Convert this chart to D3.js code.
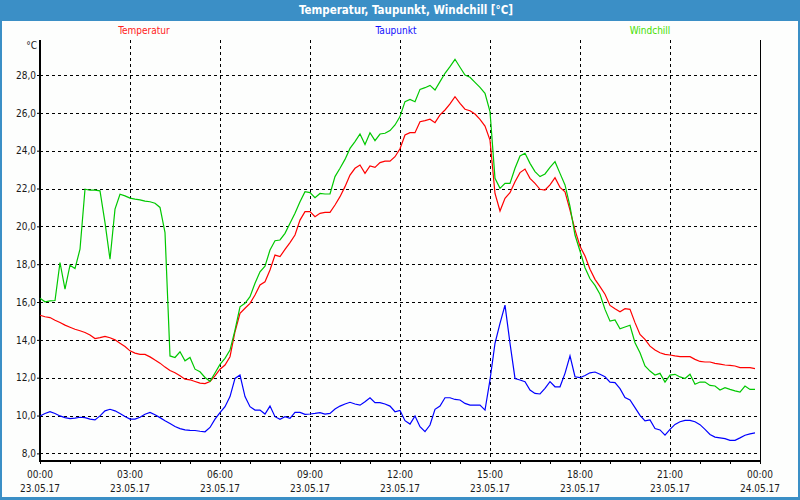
<!DOCTYPE html>
<html>
<head>
<meta charset="utf-8">
<script src="https://cdn.jsdelivr.net/npm/d3@7"></script>
<style>
  html, body { margin: 0; padding: 0; background: #ffffff; }
  svg { display: block; }
  text { font-family: "DejaVu Sans Condensed", "Liberation Sans Narrow", "Liberation Sans", sans-serif; }
</style>
</head>
<body>
<svg id="chart" width="800" height="500"></svg>
<script>
// ---------------- DATA ----------------
const chartTitle = "Temperatur, Taupunkt, Windchill [°C]";
const seriesNames = ["Temperatur", "Taupunkt", "Windchill"];
const seriesColors = ["#ff0000", "#0000ff", "#00c800"];
const legendColors = ["#ff2020", "#1010ff", "#44e000"];

// sample times in hours since 23.05.17 00:00 (10-minute readings)
const hours = d3.range(144).map(k => k / 6);

const temperatur = [
  15.30, 15.22, 15.18, 15.04, 14.92, 14.78, 14.67, 14.56, 14.48, 14.39, 14.26, 14.07,
  14.12, 14.18, 14.11, 14.00, 13.82, 13.65, 13.42, 13.30, 13.23, 13.23, 13.10, 12.93,
  12.77, 12.56, 12.38, 12.26, 12.10, 11.92, 11.89, 11.80, 11.71, 11.69, 11.80, 12.10,
  12.45, 12.67, 13.11, 14.43, 15.40, 15.67, 15.93, 16.37, 16.90, 17.07, 17.69, 18.48,
  18.40, 18.78, 19.14, 19.54, 20.33, 20.78, 20.78, 20.51, 20.69, 20.74, 20.74, 21.13,
  21.57, 22.10, 22.71, 23.07, 23.24, 22.80, 23.19, 23.12, 23.37, 23.45, 23.45, 23.68,
  24.10, 24.83, 24.95, 24.95, 25.53, 25.59, 25.66, 25.48, 25.89, 26.15, 26.47, 26.85,
  26.50, 26.19, 26.11, 25.94, 25.66, 25.30, 24.56, 21.74, 20.81, 21.48, 21.78, 22.36,
  22.84, 23.03, 22.54, 22.27, 21.96, 21.92, 22.19, 22.57, 22.06, 21.83, 20.86, 19.81,
  18.95, 18.43, 17.73, 17.20, 16.81, 16.41, 15.82, 15.65, 15.49, 15.65, 15.61, 14.91,
  14.29, 14.03, 13.67, 13.46, 13.32, 13.23, 13.20, 13.15, 13.11, 13.11, 13.11, 12.97,
  12.86, 12.83, 12.83, 12.76, 12.72, 12.67, 12.65, 12.62, 12.53, 12.53, 12.53, 12.48
];

const taupunkt = [
  9.98, 10.11, 10.21, 10.11, 9.98, 9.89, 9.84, 9.86, 9.91, 9.89, 9.81, 9.77,
  9.98, 10.25, 10.33, 10.25, 10.11, 9.95, 9.81, 9.81, 9.91, 10.07, 10.16, 10.04,
  9.89, 9.72, 9.58, 9.42, 9.31, 9.24, 9.22, 9.21, 9.17, 9.14, 9.37, 9.81,
  10.15, 10.47, 11.00, 11.96, 12.14, 11.00, 10.47, 10.29, 10.29, 10.08, 10.50, 9.94,
  9.80, 9.94, 9.85, 10.17, 10.17, 10.06, 10.08, 10.11, 10.15, 10.08, 10.11, 10.34,
  10.50, 10.61, 10.70, 10.61, 10.55, 10.73, 10.94, 10.68, 10.68, 10.61, 10.50, 10.20,
  10.27, 9.73, 9.55, 9.98, 9.41, 9.15, 9.50, 10.33, 10.50, 10.94, 10.94, 10.85,
  10.82, 10.64, 10.55, 10.55, 10.55, 10.29, 11.88, 13.82, 14.87, 15.84, 13.82, 11.96,
  11.88, 11.79, 11.35, 11.17, 11.14, 11.44, 11.79, 11.52, 11.52, 12.23, 13.15, 12.05,
  12.00, 12.12, 12.26, 12.30, 12.18, 12.05, 11.77, 11.74, 11.42, 10.95, 10.82, 10.42,
  10.01, 9.72, 9.77, 9.31, 9.24, 8.96, 9.27, 9.53, 9.67, 9.74, 9.74, 9.67,
  9.52, 9.27, 9.00, 8.86, 8.82, 8.78, 8.69, 8.69, 8.82, 8.96, 9.03, 9.08
];

const windchill = [
  16.20, 16.01, 16.06, 16.08, 18.09, 16.68, 17.95, 17.77, 18.79, 21.96, 21.91, 21.91,
  21.88, 20.20, 18.26, 20.91, 21.70, 21.61, 21.49, 21.44, 21.40, 21.33, 21.30, 21.22,
  21.00, 19.67, 13.15, 13.07, 13.37, 12.89, 13.07, 12.45, 12.31, 12.01, 11.81, 12.25,
  12.70, 13.02, 13.46, 14.52, 15.75, 15.93, 16.28, 16.99, 17.60, 17.90, 18.75, 19.24,
  19.28, 19.63, 20.16, 20.69, 21.30, 21.83, 21.78, 21.52, 21.74, 21.71, 21.71, 22.63,
  23.07, 23.54, 24.12, 24.48, 24.88, 24.33, 24.95, 24.53, 24.88, 24.92, 25.06, 25.36,
  25.80, 26.59, 26.71, 26.59, 27.24, 27.33, 27.45, 27.21, 27.65, 28.09, 28.44, 28.83,
  28.41, 28.00, 27.88, 27.61, 27.35, 27.03, 26.06, 22.54, 22.01, 22.27, 22.27, 23.07,
  23.72, 23.86, 23.33, 22.89, 22.63, 22.77, 23.12, 23.42, 22.80, 22.19, 21.05, 19.54,
  18.70, 17.81, 17.23, 16.88, 16.41, 15.61, 14.99, 15.05, 14.59, 14.68, 14.77, 13.85,
  13.32, 12.62, 12.35, 12.14, 12.23, 11.77, 12.14, 12.18, 12.04, 11.96, 12.18, 11.65,
  11.77, 11.77, 11.59, 11.56, 11.35, 11.47, 11.38, 11.30, 11.24, 11.56, 11.38, 11.38
];

const xTickHours = [0, 3, 6, 9, 12, 15, 18, 21, 24];
const timeLabels = ["00:00", "03:00", "06:00", "09:00", "12:00", "15:00", "18:00", "21:00", "00:00"];
const dateLabels = ["23.05.17", "23.05.17", "23.05.17", "23.05.17", "23.05.17", "23.05.17", "23.05.17", "23.05.17", "24.05.17"];
const yTickValues = [8, 10, 12, 14, 16, 18, 20, 22, 24, 26, 28];
const yUnit = "°C";

// ---------------- LAYOUT ----------------
const W = 800, H = 500;
const plot = { left: 40, right: 760, top: 40, bottom: 460 };
const frameBlue = "#3b8fc6";
const labelFont = "10px";

const svg = d3.select("#chart");

// frame and title bar
svg.append("rect").attr("x", 0).attr("y", 0).attr("width", W).attr("height", H).attr("fill", frameBlue);
svg.append("rect").attr("x", 2).attr("y", 21).attr("width", W - 4).attr("height", H - 24).attr("fill", "#fdfefd");
svg.append("text")
  .attr("x", W / 2 + 6).attr("y", 14)
  .attr("text-anchor", "middle")
  .attr("fill", "#ffffff")
  .attr("font-size", "11.5px")
  .attr("font-weight", "bold")
  .text(chartTitle);

// scales
const x = d3.scaleLinear().domain([0, 24]).range([plot.left, plot.right]);
const y = d3.scaleLinear().domain([7.65, 29.85]).range([plot.bottom, plot.top]);

// legend
const legendX = [144, 396, 650];
seriesNames.forEach((name, i) => {
  svg.append("text")
    .attr("x", legendX[i]).attr("y", 34)
    .attr("text-anchor", "middle")
    .attr("font-size", labelFont)
    .attr("fill", legendColors[i])
    .text(name);
});

// grid
const grid = svg.append("g").attr("stroke", "#000").attr("stroke-width", 1).attr("stroke-dasharray", "3,3");
yTickValues.forEach(v => {
  const yy = Math.round(y(v)) + 0.5;
  grid.append("line").attr("x1", plot.left).attr("x2", plot.right).attr("y1", yy).attr("y2", yy);
});
xTickHours.slice(1, -1).forEach(h => {
  const xx = Math.round(x(h)) + 0.5;
  grid.append("line").attr("x1", xx).attr("x2", xx).attr("y1", plot.top).attr("y2", plot.bottom);
});

// right border
svg.append("line").attr("x1", plot.right + 0.5).attr("x2", plot.right + 0.5)
  .attr("y1", plot.top).attr("y2", plot.bottom + 1).attr("stroke", "#000").attr("stroke-width", 1);

// axes
const xAxis = d3.axisBottom(x).tickValues(d3.range(0, 25)).tickSize(4).tickFormat("");
const gx = svg.append("g").attr("transform", `translate(0,${plot.bottom})`).call(xAxis);
gx.select(".domain").attr("stroke", "#000").attr("stroke-width", 2).attr("d", `M${plot.left - 1},1H${plot.right + 1}`);
gx.selectAll(".tick line").attr("stroke", "#000");

const yAxis = d3.axisLeft(y).tickValues(yTickValues).tickSize(3).tickFormat(d => d3.format(".1f")(d).replace(".", ","));
const gy = svg.append("g").attr("transform", `translate(${plot.left},0)`).call(yAxis);
gy.select(".domain").attr("stroke", "#000").attr("stroke-width", 2).attr("d", `M0,${plot.top}V${plot.bottom + 2}`);
gy.selectAll(".tick line").attr("stroke", "#000");
gy.selectAll(".tick text").attr("font-size", labelFont).attr("fill", "#1a1a1a")
  .attr("font-family", "'DejaVu Sans Condensed', 'Liberation Sans Narrow', 'Liberation Sans', sans-serif")
  .attr("x", -4);

svg.append("text").attr("x", 37).attr("y", 49).attr("text-anchor", "end")
  .attr("font-size", labelFont).attr("fill", "#1a1a1a").text(yUnit);

// x labels (two lines)
xTickHours.forEach((h, i) => {
  svg.append("text").attr("x", x(h)).attr("y", 478).attr("text-anchor", "middle")
    .attr("font-size", labelFont).attr("fill", "#1a1a1a").text(timeLabels[i]);
  svg.append("text").attr("x", x(h)).attr("y", 492).attr("text-anchor", "middle")
    .attr("font-size", labelFont).attr("fill", "#1a1a1a").text(dateLabels[i]);
});

// lines
const series = [temperatur, taupunkt, windchill];
const line = d3.line().x((d, i) => x(hours[i])).y(d => y(d));
series.forEach((vals, i) => {
  svg.append("path").datum(vals)
    .attr("fill", "none")
    .attr("stroke", seriesColors[i])
    .attr("stroke-width", 1.2)
    .attr("d", line);
});
</script>
</body>
</html>
